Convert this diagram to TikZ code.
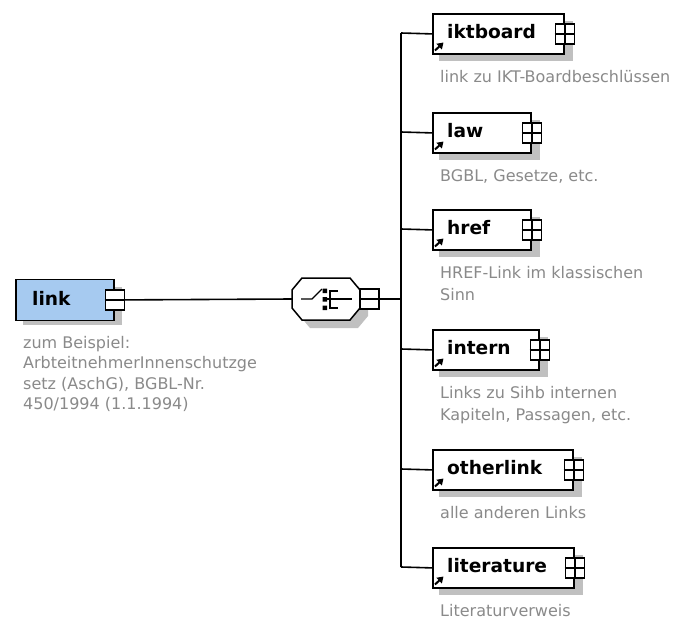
\documentclass[tikz,border=0pt]{standalone}
\usepackage{fontspec}
\setmainfont{DejaVu Sans}
\usetikzlibrary{arrows.meta}
\definecolor{descgray}{RGB}{138,138,138}
\definecolor{shadowgray}{RGB}{192,192,192}
\definecolor{elemblue}{RGB}{166,202,240}
\tikzset{
  conn/.style={line width=1.6pt, draw=black},
  elembox/.style={draw=black, line width=1.8pt, rectangle, inner sep=0pt, minimum height=40pt},
  togglebox/.style={draw=black, line width=1.4pt, fill=white, rectangle, inner sep=0pt, minimum width=19pt, minimum height=20pt},
  namefont/.style={font=\fontsize{18.6}{20}\selectfont\bfseries, inner sep=0pt},
  desctext/.style={font=\fontsize{16}{22.5}\selectfont, text=descgray, inner sep=0pt, align=left},
  refarrow/.style={line width=2pt, -{Triangle[length=6pt,width=7.5pt]}},
}
% one child element: id, top y, right x, name, description
\newcommand\xsdchild[5]{%
  \fill[shadowgray] (439,#2+8) rectangle (#3+10,#2+48);
  \node[elembox, fill=white, anchor=north west, minimum width={(#3-432)*1pt}] (#1) at (432,#2) {};
  \node[togglebox] (#1-tog) at (#1.east) {};
  \draw[line width=1.4pt] (#1-tog.west) -- (#1-tog.east) (#1-tog.north) -- (#1-tog.south);
  \draw[refarrow] (435,#2+37.5) -- (443.5,#2+29.5);
  \node[namefont, anchor=west] (#1-name) at (447,#2+19) {#4};
  \node[desctext, anchor=north west] (#1-desc) at (440,#2+57) {#5};
  \draw[conn] (bus-#1) -- (#1.west);
}
\begin{document}
\begin{tikzpicture}[x=1pt,y=-1pt]
\useasboundingbox[fill=white] (0,0) rectangle (681,619);

% root element
\fill[shadowgray] (23,287) rectangle (122,325);
\node[elembox, fill=elemblue, anchor=north west, minimum width=98pt, minimum height=41pt] (link) at (15,278.5) {};
\node[namefont, anchor=west] (link-name) at (32,298) {link};
\node[togglebox] (link-tog) at (link.east) {};
\draw[line width=1.4pt] (link-tog.west) -- (link-tog.east);
\node[desctext, font=\fontsize{16}{20.5}\selectfont, anchor=north west] (link-desc) at (23,336)
  {zum Beispiel:\\ArbteitnehmerInnenschutzge\\setz (AschG), BGBL-Nr.\\450/1994 (1.1.1994)};

% sequence compositor
\fill[shadowgray, shift={(8,8)}] (292,290) -- (302,278) -- (350,278) -- (360,290) -- (360,308) -- (350,320) -- (302,320) -- (292,308) -- cycle;
\draw[line width=1.5pt, fill=white] (292,290) -- (302,278) -- (350,278) -- (360,290) -- (360,308) -- (350,320) -- (302,320) -- (292,308) -- cycle;
\node[inner sep=0pt, minimum width=68pt, minimum height=42pt] (seq) at (326,299) {};
\draw[line width=1.4pt] (301,299) -- (312,299) -- (322,289);
\fill (322.5,288.5) rectangle (327,293) (322.5,297) rectangle (327,301.5) (322.5,305.5) rectangle (327,310);
\draw[line width=1.4pt] (338,291) -- (330,291) -- (330,308) -- (338,308) (327,299) -- (352,299);
\node[togglebox] (seq-tog) at (369.5,299) {};
\draw[line width=1.4pt] (seq-tog.west) -- (seq-tog.east);

\draw[conn] (link-tog.east) -- (seq.west);

% branch points on the vertical bus
\coordinate (bus) at (401,299);
\coordinate (bus-iktboard) at (401,33);
\coordinate (bus-law) at (401,132);
\coordinate (bus-href) at (401,229);
\coordinate (bus-intern) at (401,349);
\coordinate (bus-otherlink) at (401,469);
\coordinate (bus-literature) at (401,567);
\draw[conn] (seq-tog.east) -- (bus);
\draw[conn] (bus-iktboard) -- (bus-literature);

% child elements
\xsdchild{iktboard}{13}{563}{iktboard}{link zu IKT-Boardbeschlüssen}
\xsdchild{law}{112}{530}{law}{BGBL, Gesetze, etc.}
\xsdchild{href}{209}{530}{href}{HREF-Link im klassischen\\Sinn}
\xsdchild{intern}{329}{538}{intern}{Links zu Sihb internen\\Kapiteln, Passagen, etc.}
\xsdchild{otherlink}{449}{572}{otherlink}{alle anderen Links}
\xsdchild{literature}{547}{573}{literature}{Literaturverweis}
\end{tikzpicture}
\end{document}
